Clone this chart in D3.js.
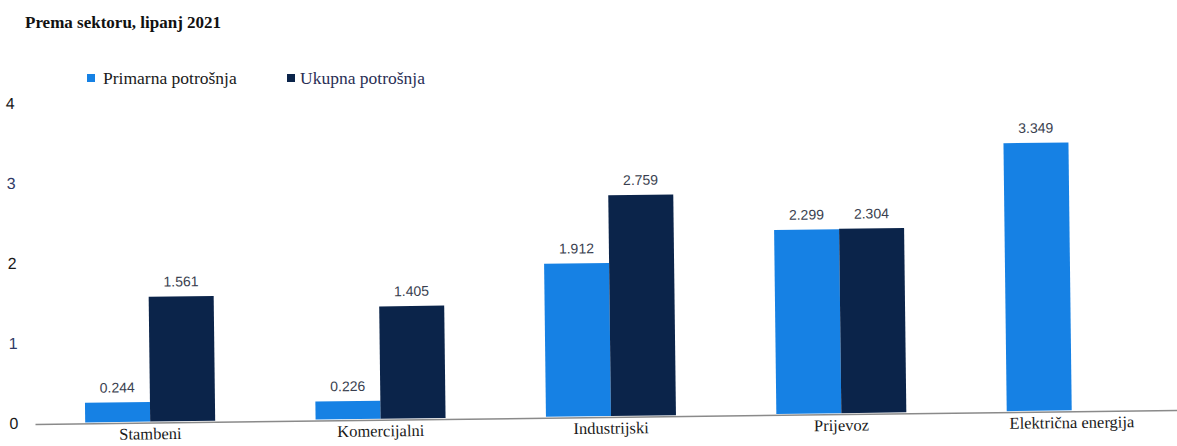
<!DOCTYPE html>
<html>
<head>
<meta charset="utf-8">
<script src="https://cdn.jsdelivr.net/npm/d3@7"></script>
<style>
  body { margin: 0; background: #fff; }
  svg { display: block; }
</style>
</head>
<body>
<svg id="chart" width="1177" height="446"></svg>
<script>
const sectors = ['Stambeni', 'Komercijalni', 'Industrijski', 'Prijevoz', 'Električna energija'];
const primarna = [0.244, 0.226, 1.912, 2.299, 3.349];
const ukupna = [1.561, 1.405, 2.759, 2.304, null];
const seriesNames = ['Primarna potrošnja', 'Ukupna potrošnja'];
const yTicks = [0, 1, 2, 3, 4];

const colors = ['#1681e4', '#0b244a'];
const svg = d3.select('#chart');

// scan is slightly tilted, so the whole drawing is rotated a bit
const g = svg.append('g').attr('transform', 'rotate(-0.7, 35, 423)');

const x = d3.scaleBand().domain(sectors).range([35, 1187]);
const x1 = d3.scaleBand().domain(seriesNames).range([x.bandwidth() / 2 - 65, x.bandwidth() / 2 + 65]);
const y = d3.scaleLinear().domain([0, 4]).range([423, 103]);

// title
svg.append('text')
    .attr('x', 25).attr('y', 28)
    .attr('font-family', 'Liberation Serif, serif')
    .attr('font-weight', 'bold')
    .attr('font-size', 17)
    .attr('fill', '#111')
    .text('Prema sektoru, lipanj 2021');

// legend
const legend = svg.append('g');
[[87, 103], [287, 300]].forEach((p, i) => {
    legend.append('rect')
        .attr('x', p[0]).attr('y', 74).attr('width', 8).attr('height', 8)
        .attr('fill', colors[i]);
    legend.append('text')
        .attr('x', p[1]).attr('y', 84)
        .attr('font-family', 'Liberation Serif, serif')
        .attr('font-size', 17.5)
        .attr('fill', i ? '#2a2f55' : '#1a1a1a')
        .text(seriesNames[i]);
});

// y axis labels (no line)
const yAxis = g.append('g')
    .attr('transform', 'translate(20,0)')
    .call(d3.axisLeft(y).tickValues(yTicks).tickSize(0).tickPadding(0).tickFormat(d3.format('d')));
yAxis.select('.domain').remove();
yAxis.selectAll('text')
    .attr('text-anchor', 'middle')
    .attr('x', -6)
    .attr('font-family', 'Liberation Sans, Arial, sans-serif')
    .attr('font-size', 16)
    .attr('fill', (d, i) => i % 2 ? '#2f3a66' : '#1a1a1a');

// bars
const rows = sectors.map((s, i) => ({ sector: s, vals: [primarna[i], ukupna[i]] }));
const groups = g.selectAll('.grp')
    .data(rows)
    .enter()
    .append('g')
    .attr('class', 'grp')
    .attr('transform', d => `translate(${x(d.sector)},0)`);

const cells = groups.selectAll('.cell')
    .data(d => d.vals.map((v, j) => ({ key: seriesNames[j], v, j })).filter(c => c.v != null))
    .enter();

cells.append('rect')
    .attr('x', c => x1(c.key))
    .attr('y', c => y(c.v))
    .attr('width', x1.bandwidth())
    .attr('height', c => y(0) - y(c.v))
    .attr('fill', c => colors[c.j]);

cells.append('text')
    .attr('x', c => x1(c.key) + x1.bandwidth() / 2)
    .attr('y', c => y(c.v) - 10)
    .attr('text-anchor', 'middle')
    .attr('font-family', 'Liberation Sans, Arial, sans-serif')
    .attr('font-size', 14)
    .attr('fill', '#3a3f4f')
    .text(c => c.v.toFixed(3));

// x axis line + category labels
const xAxis = g.append('g')
    .attr('transform', `translate(0,${y(0) + 1})`)
    .call(d3.axisBottom(x).tickSize(0).tickPadding(5));
xAxis.select('.domain')
    .attr('stroke', '#8a8a8a')
    .attr('stroke-width', 1.5);
xAxis.selectAll('text')
    .attr('font-family', 'Liberation Serif, serif')
    .attr('font-size', 16.5)
    .attr('fill', '#1a1a1a');
</script>
</body>
</html>
